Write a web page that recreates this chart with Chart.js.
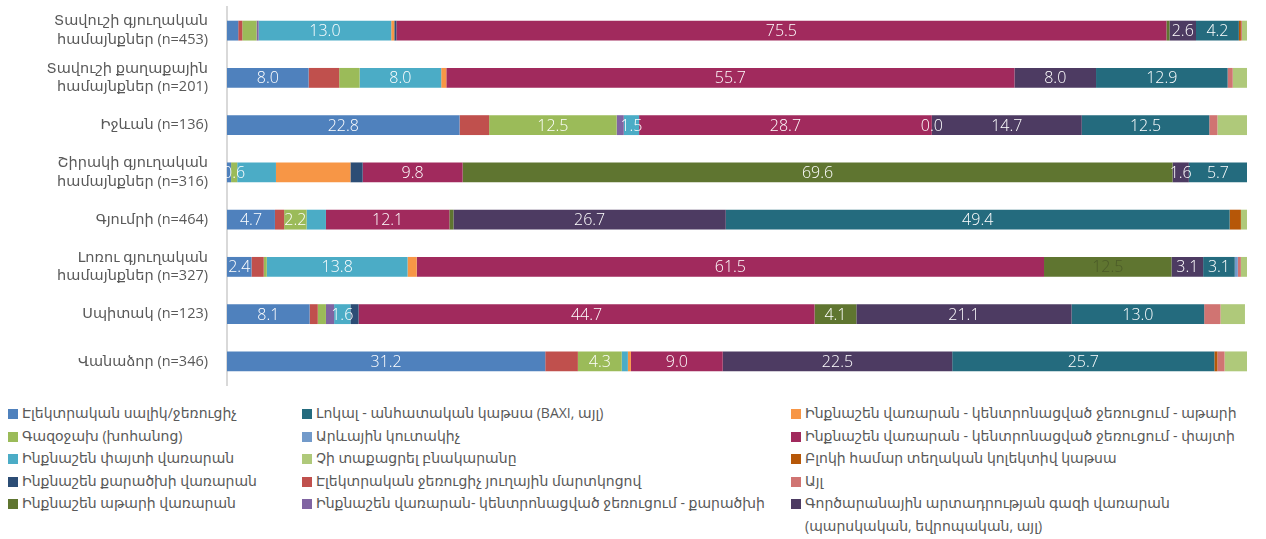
<!DOCTYPE html>
<html>
<head>
<meta charset="utf-8">
<script src="https://cdn.jsdelivr.net/npm/chart.js@4.4.1/dist/chart.umd.min.js"></script>
<style>
    body { margin: 0; background: #fff; width: 1266px; height: 539px; overflow: hidden; position: relative; }
    #wrap { position: absolute; left: 0; top: 0; width: 1266px; height: 392px; }
    #legend { position: absolute; left: 0; top: 402px; width: 1266px; font-family: 'Open Sans', 'DejaVu Sans', sans-serif; font-size: 14px; color: #595959; }
    .item { position: absolute; line-height: 22.6px; white-space: nowrap; }
    .item i { display: inline-block; width: 10px; height: 10px; margin-right: 4px; vertical-align: -1px; }
</style>
</head>
<body>
<div id="wrap"><canvas id="chart"></canvas></div>
<div id="legend"></div>
<script>
// Categories (top to bottom)
const categories = [
    ['Տավուշի գյուղական', 'համայնքներ (n=453)'],
    ['Տավուշի քաղաքային', 'համայնքներ (n=201)'],
    'Իջևան (n=136)',
    ['Շիրակի գյուղական', 'համայնքներ (n=316)'],
    'Գյումրի (n=464)',
    ['Լոռու գյուղական', 'համայնքներ (n=327)'],
    'Սպիտակ (n=123)',
    'Վանաձոր (n=346)'
];

// Series values, %, in stack order
const elecStove   = [1.1, 8.0, 22.8, 0.4, 4.7, 2.4, 8.1, 31.2];
const elecOil     = [0.4, 3.0, 2.9, 0, 0.9, 1.2, 0.8, 3.2];
const gasStove    = [1.4, 2.0, 12.5, 0.6, 2.2, 0.3, 0.8, 4.3];
const coalCentral = [0.2, 0, 0.7, 0, 0, 0, 0.8, 0];
const woodStove   = [13.0, 8.0, 1.5, 3.8, 1.9, 13.8, 1.6, 0.6];
const dungCentral = [0.3, 0.5, 0, 7.3, 0, 0.9, 0, 0.3];
const coalStove   = [0.2, 0, 0, 1.2, 0, 0, 0.8, 0];
const woodCentral = [75.5, 55.7, 28.7, 9.8, 12.1, 61.5, 44.7, 9.0];
const dungStove   = [0.3, 0, 0.0, 69.6, 0.4, 12.5, 4.1, 0];
const factoryGas  = [2.6, 8.0, 14.7, 1.6, 26.7, 3.1, 21.1, 22.5];
const localBoiler = [4.2, 12.9, 12.5, 5.7, 49.4, 3.1, 13.0, 25.7];
const solar       = [0, 0, 0, 0, 0, 0.3, 0, 0];
const blockBoiler = [0.2, 0, 0, 0, 1.1, 0, 0, 0.3];
const other       = [0.1, 0.5, 0.8, 0, 0, 0.3, 1.6, 0.7];
const notHeated   = [0.5, 1.4, 2.9, 0, 0.6, 0.6, 2.4, 2.2];

// Rows where a value label is shown
const all = [0, 1, 2, 3, 4, 5, 6, 7];
const series = [
    { name: 'Էլեկտրական սալիկ/ջեռուցիչ', data: elecStove, color: '#4F81BD', labels: [1, 2, 4, 5, 6, 7] },
    { name: 'Էլեկտրական ջեռուցիչ յուղային մարտկոցով', data: elecOil, color: '#C0504D', labels: [] },
    { name: 'Գազօջախ (խոհանոց)', data: gasStove, color: '#9BBB59', labels: [2, 3, 4, 7] },
    { name: 'Ինքնաշեն վառարան- կենտրոնացված ջեռուցում - քարածխի', data: coalCentral, color: '#8064A2', labels: [] },
    { name: 'Ինքնաշեն փայտի վառարան', data: woodStove, color: '#4BACC6', labels: [0, 1, 2, 5, 6] },
    { name: 'Ինքնաշեն վառարան - կենտրոնացված ջեռուցում - աթարի', data: dungCentral, color: '#F79646', labels: [] },
    { name: 'Ինքնաշեն քարածխի վառարան', data: coalStove, color: '#2C4D75', labels: [] },
    { name: 'Ինքնաշեն վառարան - կենտրոնացված ջեռուցում - փայտի', data: woodCentral, color: '#A12A5D', labels: all },
    { name: 'Ինքնաշեն աթարի վառարան', data: dungStove, color: '#5F7530', labels: [2, 3, 5, 6] },
    { name: 'Գործարանային արտադրության գազի վառարան', name2: '(պարսկական, եվրոպական, այլ)', data: factoryGas, color: '#4D3B62', labels: all },
    { name: 'Լոկալ - անհատական կաթսա (BAXI, այլ)', data: localBoiler, color: '#246B7E', labels: all },
    { name: 'Արևային կուտակիչ', data: solar, color: '#729ACA', labels: [] },
    { name: 'Բլոկի համար տեղական կոլեկտիվ կաթսա', data: blockBoiler, color: '#B65708', labels: [] },
    { name: 'Այլ', data: other, color: '#D07472', labels: [] },
    { name: 'Չի տաքացրել բնակարանը', data: notHeated, color: '#AFC97A', labels: [] }
];

// Legend grid, row by row (series index)
const legendOrder = [0, 10, 5, 2, 11, 7, 4, 14, 12, 6, 1, 13, 8, 3, 9];
const legendCols = [8, 302, 791];

const FONT = "'Open Sans', 'DejaVu Sans', sans-serif";

// Value labels inside segments
const segmentLabels = {
    id: 'segmentLabels',
    afterDatasetsDraw(chart) {
        const ctx = chart.ctx;
        ctx.save();
        ctx.font = '300 16px ' + FONT;
        ctx.textAlign = 'center';
        ctx.textBaseline = 'middle';
        chart.data.datasets.forEach((ds, i) => {
            const meta = chart.getDatasetMeta(i);
            series[i].labels.forEach(r => {
                const bar = meta.data[r];
                const x = (bar.x + bar.base) / 2;
                // olive label in Lori is printed dark
                ctx.fillStyle = (i === 8 && r === 5) ? '#4B5A28' : '#FFFFFF';
                ctx.fillText(ds.data[r].toFixed(1), x, bar.y + 1);
            });
        });
        ctx.restore();
    }
};

new Chart(document.getElementById('chart'), {
    type: 'bar',
    data: {
        labels: categories,
        datasets: series.map(s => ({
            label: s.name,
            data: s.data,
            backgroundColor: s.color,
            borderWidth: 0,
            barPercentage: 1,
            categoryPercentage: 0.42
        }))
    },
    options: {
        indexAxis: 'y',
        responsive: true,
        maintainAspectRatio: false,
        animation: false,
        layout: { padding: { top: 7, bottom: 7, left: 0, right: 19 } },
        plugins: {
            legend: { display: false },
            tooltip: { enabled: false }
        },
        scales: {
            x: { stacked: true, min: 0, max: 100, display: false },
            y: {
                stacked: true,
                grid: { display: false, drawTicks: false },
                border: { display: true, color: '#D9D9D9', width: 2 },
                ticks: {
                    color: '#595959',
                    padding: 19,
                    font: { family: FONT, size: 14.5, lineHeight: 1.3 }
                },
                afterFit: (scale) => {
                    scale.width = 227;
                    scale.paddingTop = 0;
                    scale.paddingBottom = 0;
                }
            }
        }
    },
    plugins: [segmentLabels]
});

// HTML legend in three columns
const legendEl = document.getElementById('legend');
legendOrder.forEach((si, k) => {
    const s = series[si];
    const div = document.createElement('div');
    div.className = 'item';
    div.style.left = legendCols[k % 3] + 'px';
    div.style.top = (Math.floor(k / 3) * 22.6) + 'px';
    div.innerHTML = '<i style="background:' + s.color + '"></i>' + s.name +
        (s.name2 ? '<br><span style="padding-left:14px">' + s.name2 + '</span>' : '');
    legendEl.appendChild(div);
});
</script>
</body>
</html>
